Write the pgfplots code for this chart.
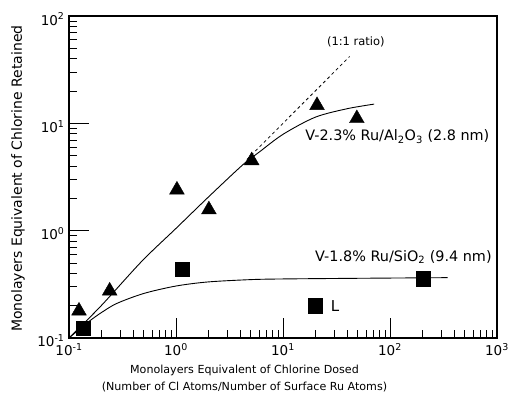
\documentclass[border=0pt]{standalone}
\usepackage{pgfplots}
\pgfplotsset{compat=1.18}
\usepackage{fontspec}
\setmainfont{DejaVu Sans}
\begin{document}
\begin{tikzpicture}
\begin{axis}[
  name=ax,
  scale only axis, width=428pt, height=322pt,
  xmode=log, ymode=log,
  xmin=0.1, xmax=1000, ymin=0.1, ymax=100,
  axis line style={line width=1.6pt},
  xtick={0.1,1,10,100,1000},
  xticklabels={10\textsuperscript{-1},10\textsuperscript{0},10\textsuperscript{1},10\textsuperscript{2},10\textsuperscript{3}},
  ytick={0.1,1,10,100},
  yticklabels={10\textsuperscript{-1},10\textsuperscript{0},10\textsuperscript{1},10\textsuperscript{2}},
  tick pos=left, tick align=inside,
  major tick length=20pt, minor tick length=8pt,
  every tick/.style={line width=0.8pt, black},
  ticklabel style={font=\fontsize{13.5}{13.5}\selectfont},
  xticklabel style={yshift=-2pt},
  yticklabel style={xshift=-1pt, yshift=-3pt},
  xlabel={Monolayers Equivalent of Chlorine Dosed\\(Number of Cl Atoms/Number of Surface Ru Atoms)},
  xlabel style={align=center, font=\fontsize{11.1}{17}\selectfont, at={(axis description cs:0.41,0)}, anchor=north, yshift=-24pt},
  ylabel={Monolayers Equivalent of Chlorine Retained},
  ylabel style={font=\fontsize{14}{14}\selectfont, at={(axis description cs:-0.1192,0.495)}, anchor=center},
  clip=false,
]
% Al2O3 fitted curve
\addplot[black, line width=0.9pt, smooth] coordinates {
 (0.1,0.1) (0.2,0.2) (0.48,0.52) (1,1.05) (2,2.05) (4.2,4.1) (6,5.4) (10,7.9) (20,11.4) (40,13.7) (71,15.1)};
% SiO2 fitted curve
\addplot[black, line width=0.9pt, smooth] coordinates {
 (0.1,0.1) (0.15,0.14) (0.2,0.172) (0.28,0.21) (0.5,0.26) (1,0.305) (2,0.333) (5,0.35) (10,0.355) (50,0.36) (346,0.365)};
% 1:1 ratio dashed
\addplot[black, line width=0.8pt, dashed] coordinates {(4.6,4.6) (42,42)};
% triangles Al2O3
\addplot[only marks, mark=triangle*, mark size=8.5pt, black] coordinates {
 (0.124,0.179) (0.24,0.275) (1.02,2.4) (2.03,1.57) (5.1,4.5) (20.8,14.7) (49,11.1)};
% squares SiO2
\addplot[only marks, mark=square*, mark size=7.2pt, black] coordinates {
 (0.135,0.124) (1.14,0.44) (20,0.2) (204,0.356)};
\node[font=\fontsize{11.5}{11.5}\selectfont] at (axis cs:48,57) {(1:1 ratio)};
\node[anchor=west, font=\fontsize{14.4}{14.4}\selectfont, inner sep=0pt] at (axis cs:16.1,7.56) {V-2.3\% Ru/Al\textsubscript{2}O\textsubscript{3} (2.8 nm)};
\node[anchor=west, font=\fontsize{14.4}{14.4}\selectfont, inner sep=0pt] at (axis cs:19.9,0.571) {V-1.8\% Ru/SiO\textsubscript{2} (9.4 nm)};
\node[font=\fontsize{15}{15}\selectfont] at (axis cs:30.6,0.2) {L};
\end{axis}
\pgfresetboundingbox
\path (ax.south west) ++(-69pt,-63pt) rectangle ([shift={(439pt,338pt)}]ax.south west);
\end{tikzpicture}
\end{document}
